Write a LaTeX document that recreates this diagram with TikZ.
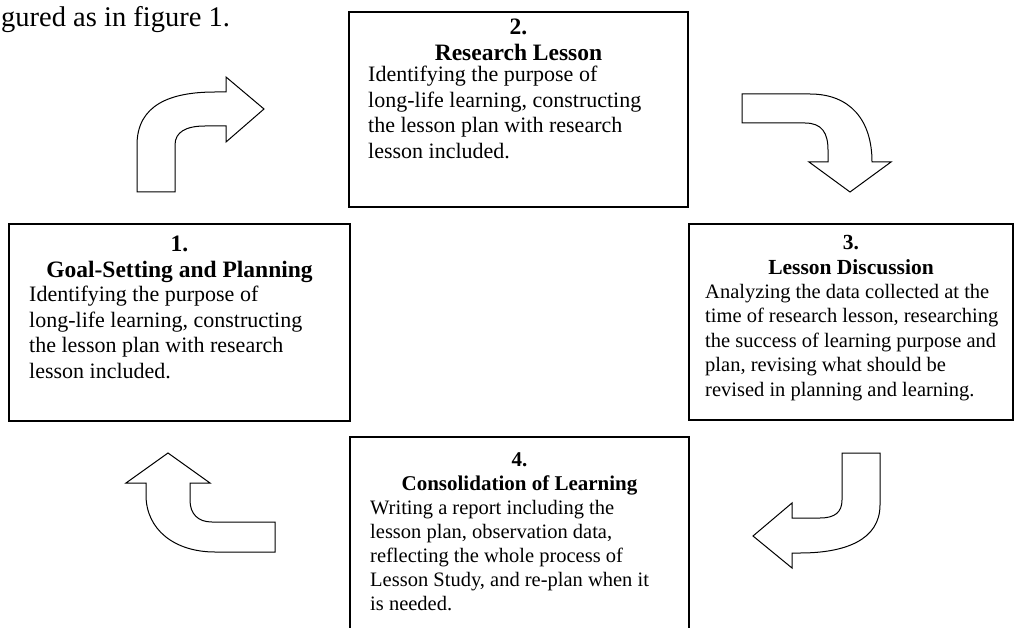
\documentclass[tikz,border=0pt]{standalone}
\usepackage{fontspec}
\setmainfont{Liberation Serif}
\usetikzlibrary{positioning}

\begin{document}
\begin{tikzpicture}[x=1pt, y=-1pt,
    stagebox/.style={draw, line width=1.6pt, minimum width=#1},
    stagehead/.style={anchor=north, inner sep=0pt, align=center, font=\bfseries\fontsize{23.5}{26}\selectfont},
    stagebody/.style={anchor=north west, inner sep=0pt, align=left, font=\fontsize{22}{25.5}\selectfont},
    smallbody/.style={stagebody, font=\fontsize{20.5}{24.5}\selectfont},
    turnarrow/.style={draw, line width=1pt, line join=miter, fill=white}]
    \clip (0,0) rectangle (1016,628);

    % text cut from the page above the figure
    \node[anchor=base west, inner sep=0pt, font=\fontsize{28.5}{30}\selectfont] (intro) at (1,27) {gured as in figure 1.};

    % the four stages
    \node[stagebox=341, minimum height=197] (goal) at (179.5,322.5) {};
    \node[stagebox=339, minimum height=195] (research) at (518.5,109.5) {};
    \node[stagebox=324, minimum height=196] (discuss) at (851,322) {};
    \node[stagebox=339, minimum height=215] (consol) at (519.5,544.5) {};

    \node[stagehead] (goalhead) at (179.5,236) {1.\\Goal-Setting and Planning};
    \node[stagebody] (goaltext) at (29,286) {Identifying the purpose of\\long-life learning, constructing\\the lesson plan with research\\lesson included.};

    \node[stagehead] (researchhead) at (518.5,19) {2.\\Research Lesson};
    \node[stagebody] (researchtext) at (368,66) {Identifying the purpose of\\long-life learning, constructing\\the lesson plan with research\\lesson included.};

    \node[stagehead, font=\bfseries\fontsize{21.5}{25}\selectfont] (discusshead) at (851,235) {3.\\Lesson Discussion};
    \node[smallbody] (discusstext) at (705,284) {Analyzing the data collected at the\\time of research lesson, researching\\the success of learning purpose and\\plan, revising what should be\\revised in planning and learning.};

    \node[stagehead, font=\bfseries\fontsize{21}{24}\selectfont] (consolhead) at (519.5,452) {4.\\Consolidation of Learning};
    \node[smallbody, font=\fontsize{20.5}{24}\selectfont] (consoltext) at (370,500) {Writing a report including the\\lesson plan, observation data,\\reflecting the whole process of\\Lesson Study, and re-plan when it\\is needed.};

    % bent arrows between the stages
    \draw[turnarrow] (137,192) -- (137,145) .. controls (137,105) and (170,92) .. (215,92)
      -- (226,92) -- (226,77) -- (264,109) -- (226,142) -- (226,126) -- (205,126)
      .. controls (186,126) and (175,132) .. (175,145) -- (175,192) -- cycle;
    \draw[turnarrow] (742,94) -- (810,94) .. controls (850,94) and (872,120) .. (872,162)
      -- (891,162) -- (850,192) -- (809,162) -- (828,162) -- (828,150)
      .. controls (828,133) and (822,123) .. (805,123) -- (742,123) -- cycle;
    \draw[turnarrow] (842,453) -- (880,453) -- (880,505) .. controls (880,540) and (845,553) .. (800,553)
      -- (792,553) -- (792,568) -- (753,536) -- (792,503) -- (792,518) -- (820,518)
      .. controls (835,518) and (842,512) .. (842,500) -- cycle;
    \draw[turnarrow] (275,522) -- (212,522) .. controls (198,522) and (190,514) .. (190,500)
      -- (190,483) -- (210,483) -- (168,453) -- (126,483) -- (146,483) -- (146,495)
      .. controls (146,530) and (175,552) .. (215,552) -- (275,552) -- cycle;
\end{tikzpicture}
\end{document}
